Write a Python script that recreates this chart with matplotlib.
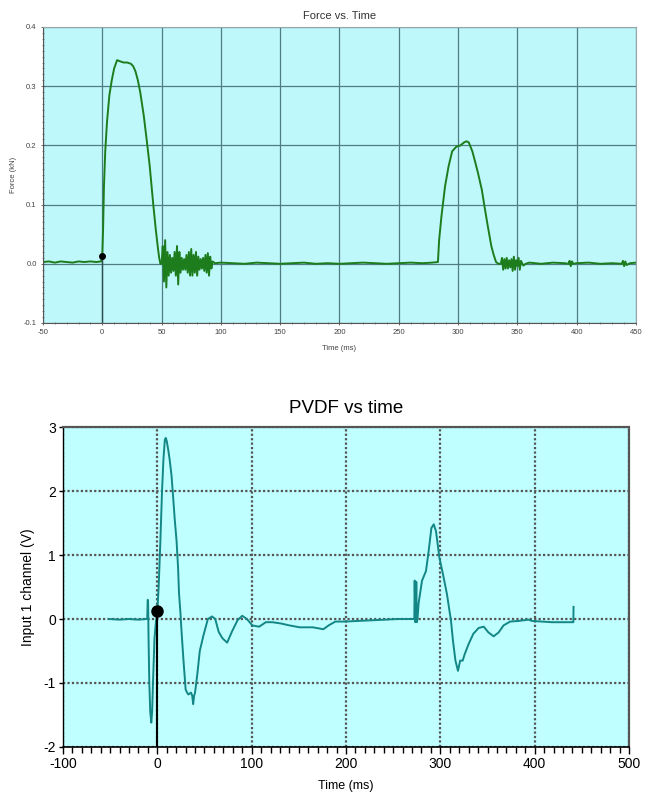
import matplotlib
matplotlib.use("Agg")
import matplotlib.pyplot as plt
from matplotlib.ticker import MultipleLocator

plt.rcParams['font.family'] = ['Liberation Sans', 'DejaVu Sans']
plt.rcParams['axes.unicode_minus'] = False

# ---------------- Force vs. Time data ----------------
force_t = [-50, -45, -40, -35, -30, -25, -20, -15, -10, -5, -1, 0,
           0.7, 1.4, 2.5, 4, 6, 8, 10, 12.5, 15, 18, 21, 24, 26, 28, 30, 32, 35, 38, 40, 43, 45, 47, 48,
           49, 50, 51, 52, 53, 54, 55, 56, 57, 58, 59, 60, 61, 62, 63, 64, 65, 66, 67, 68, 69, 70,
           71, 72, 73, 74, 75, 76, 77, 78, 79, 80, 81, 82, 83, 84, 85, 86, 87, 88, 89, 90, 91, 92, 93, 95,
           100, 110, 120, 130, 140, 150, 160, 170, 180, 190, 200, 210, 220, 230, 240, 250, 260, 270, 278, 283,
           284, 286, 289, 292, 295, 298.6, 302, 305, 307, 309, 312, 314, 316.7, 320, 322, 325, 328, 330, 332,
           334, 336, 337, 338, 339, 340, 341, 342, 343, 344, 345, 346, 347, 348, 349, 350, 351, 352, 353, 355, 357,
           360, 370, 380, 390, 393, 394, 395, 396, 397, 400, 410, 420, 430, 438, 439, 440, 441, 442, 445, 450]
force_v = [0.003, 0.004, 0.002, 0.004, 0.003, 0.002, 0.004, 0.003, 0.004, 0.003, 0.004, 0.013,
           0.06, 0.13, 0.19, 0.24, 0.285, 0.31, 0.33, 0.344, 0.342, 0.34, 0.34, 0.338, 0.334, 0.325, 0.31, 0.29, 0.25, 0.2, 0.165, 0.1, 0.06, 0.025, 0.01,
           0.0, 0.0, 0.03, -0.03, 0.04, -0.04, 0.02, -0.02, 0.015, -0.015, 0.01, -0.012, 0.02, -0.02, 0.03, -0.035, 0.02, -0.015, 0.01, -0.01, 0.008, -0.01,
           0.015, -0.015, 0.02, -0.02, 0.025, -0.02, 0.015, -0.015, 0.02, -0.02, 0.012, -0.01, 0.008, -0.008, 0.01, -0.012, 0.015, -0.015, 0.018, -0.02, 0.012, -0.008, 0.004, 0.001,
           0.002, 0.001, 0.0, 0.002, 0.001, 0.0, 0.001, 0.002, 0.0, 0.001, 0.0, 0.001, 0.002, 0.001, 0.0, 0.001, 0.002, 0.001, 0.002, 0.003,
           0.04, 0.081, 0.131, 0.165, 0.19, 0.198, 0.2, 0.205, 0.207, 0.205, 0.19, 0.175, 0.154, 0.125, 0.1, 0.064, 0.03, 0.015, 0.003,
           0.0, 0.0, 0.01, -0.01, 0.008, -0.008, 0.01, -0.008, 0.006, -0.006, 0.008, -0.012, 0.012, -0.01, 0.006, -0.004, 0.01, -0.01, 0.005, -0.003, 0.0,
           0.002, 0.0, 0.002, 0.001, 0.0, 0.005, -0.004, 0.004, 0.0, 0.001, 0.002, 0.0, 0.001, 0.0, 0.005, -0.004, 0.004, -0.002, 0.001, 0.002]
force_dot = (0, 0.013)

# ---------------- PVDF vs time data ----------------
pvdf_t = [-51, -40, -30, -20, -12, -10.7, -10.2, -9.8, -9.3, -8.5, -7.5, -6.4, -5.5, -4.6, -3, -1.5, 0,
          1.4, 3.2, 5, 6.5, 8, 9, 10, 11.5, 13, 15, 16.8, 18.5, 20.4, 22, 23, 24.5, 25.7, 27.5, 30, 31.5, 33,
          35.7, 37, 38, 39, 40, 42.5, 45, 49, 53.6, 58, 61.4, 65, 69, 74, 79, 85, 90, 95, 100.7, 108, 115, 122,
          131, 140, 151, 165, 176, 181.6, 188.7, 199, 213, 227.5, 241.7, 255, 270, 272.4, 272.8, 273.5, 274, 274.5,
          275, 275.8, 276, 277, 280.6, 284.8, 287.6, 290.5, 293, 295.4, 299, 302.5, 307, 311.3, 313.4, 316,
          318.7, 321, 323.7, 325.8, 330, 335, 340.6, 346, 351, 356.5, 361.8, 367, 374, 383, 393.6, 397, 418, 441,
          441.2]
pvdf_v = [0.0, -0.01, 0.0, -0.01, 0.0, 0.0, 0.3, 0.28, -0.3, -1.0, -1.45, -1.62, -1.45, -1.0, -0.3, -0.05, 0.12,
          0.5, 1.2, 2.0, 2.5, 2.8, 2.83, 2.78, 2.65, 2.5, 2.25, 1.9, 1.55, 1.22, 0.8, 0.4, 0.1, -0.2, -0.6, -1.1, -1.15, -1.18,
          -1.15, -1.2, -1.33, -1.2, -1.15, -0.85, -0.5, -0.25, 0.0, 0.04, 0.0, -0.2, -0.3, -0.37, -0.2, -0.02, 0.05, 0.0, -0.1, -0.12, -0.05, -0.05,
          -0.07, -0.1, -0.13, -0.13, -0.16, -0.1, -0.04, -0.04, -0.03, -0.02, -0.01, 0.0, 0.0, 0.0, 0.6, -0.05, 0.0, 0.58,
          -0.05, 0.0, 0.05, 0.25, 0.6, 0.75, 1.06, 1.42, 1.48, 1.37, 0.96, 0.72, 0.39, -0.03, -0.34, -0.65,
          -0.81, -0.65, -0.65, -0.55, -0.39, -0.23, -0.14, -0.12, -0.21, -0.27, -0.21, -0.1, -0.04, -0.03, -0.01, -0.03, -0.05, -0.05,
          0.19]
pvdf_dot = (0, 0.12)

force_xticks = [-50, 0, 50, 100, 150, 200, 250, 300, 350, 400, 450]
force_yticks = [-0.1, 0.0, 0.1, 0.2, 0.3, 0.4]
force_yticklabels = ['-0.1', '0.0', '0.1', '0.2', '0.3', '0.4']
pvdf_xticks = [-100, 0, 100, 200, 300, 400, 500]
pvdf_yticks = [-2, -1, 0, 1, 2, 3]

fig = plt.figure(figsize=(6.54, 7.94), dpi=100)

# ---------------- Top panel ----------------
ax1 = fig.add_axes([0.0657, 0.5932, 0.9068, 0.3728])
ax1.set_facecolor('#bff8fa')
ax1.set_xlim(-50, 450)
ax1.set_ylim(-0.1, 0.4)
ax1.set_xticks(force_xticks)
ax1.set_yticks(force_yticks)
ax1.set_yticklabels(force_yticklabels)
ax1.xaxis.set_minor_locator(MultipleLocator(10))
ax1.yaxis.set_minor_locator(MultipleLocator(0.01))
ax1.grid(True, which='major', color='#4f7d86', linewidth=0.9)
ax1.set_axisbelow(True)
ax1.tick_params(which='major', direction='inout', length=3, width=0.6, colors='#555555',
                labelsize=5.5, labelcolor='#444444', pad=3)
ax1.tick_params(which='minor', direction='inout', length=2, width=0.5, colors='#666666')
for s in ax1.spines.values():
    s.set_color('#9aa7aa')
    s.set_linewidth(0.8)
ax1.spines['left'].set_color('#555555')
ax1.spines['bottom'].set_color('#555555')
ax1.plot(force_t, force_v, color='#1d7d1d', linewidth=1.4, solid_joinstyle='round')
ax1.plot([0, 0], [-0.1, force_dot[1]], color='#2f4f4f', linewidth=1.0)
ax1.plot(*force_dot, 'o', color='black', markersize=4)
ax1.set_title('Force vs. Time', fontsize=8, color='#333333', pad=6)
ax1.set_xlabel('Time (ms)', fontsize=5.5, color='#444444', labelpad=6)
ax1.set_ylabel('Force (kN)', fontsize=5.5, color='#444444', labelpad=5)

# ---------------- Bottom panel ----------------
ax2 = fig.add_axes([0.0963, 0.0592, 0.8655, 0.4030])
ax2.set_facecolor('#c0ffff')
ax2.set_xlim(-100, 500)
ax2.set_ylim(-2, 3)
ax2.set_xticks(pvdf_xticks)
ax2.set_yticks(pvdf_yticks)
ax2.xaxis.set_minor_locator(MultipleLocator(10))
ax2.grid(True, which='major', color='#555555', linewidth=1.6, linestyle=(0, (1, 1)))
ax2.set_axisbelow(True)
ax2.tick_params(which='major', direction='out', length=5, width=1.0, colors='black',
                labelsize=10, pad=2)
ax2.tick_params(which='minor', direction='out', length=4, width=1.0, colors='black')
ax2.tick_params(axis='y', which='major', length=3)
for side in ['top', 'right']:
    ax2.spines[side].set_linestyle((0, (1, 1)))
    ax2.spines[side].set_color('#555555')
    ax2.spines[side].set_linewidth(1.6)
ax2.spines['left'].set_linewidth(1.0)
ax2.spines['bottom'].set_linewidth(1.2)
ax2.plot(pvdf_t, pvdf_v, color='#138686', linewidth=1.4, solid_joinstyle='round')
ax2.plot([0, 0], [-2, pvdf_dot[1]], color='black', linewidth=1.5)
ax2.plot(*pvdf_dot, 'o', color='black', markersize=8)
ax2.set_title('PVDF vs time', fontsize=13.5, pad=10)
ax2.set_xlabel('Time (ms)', fontsize=9, labelpad=7)
ax2.set_ylabel('Input 1 channel (V)', fontsize=10, labelpad=6)

fig.savefig('out.png', dpi=100)
